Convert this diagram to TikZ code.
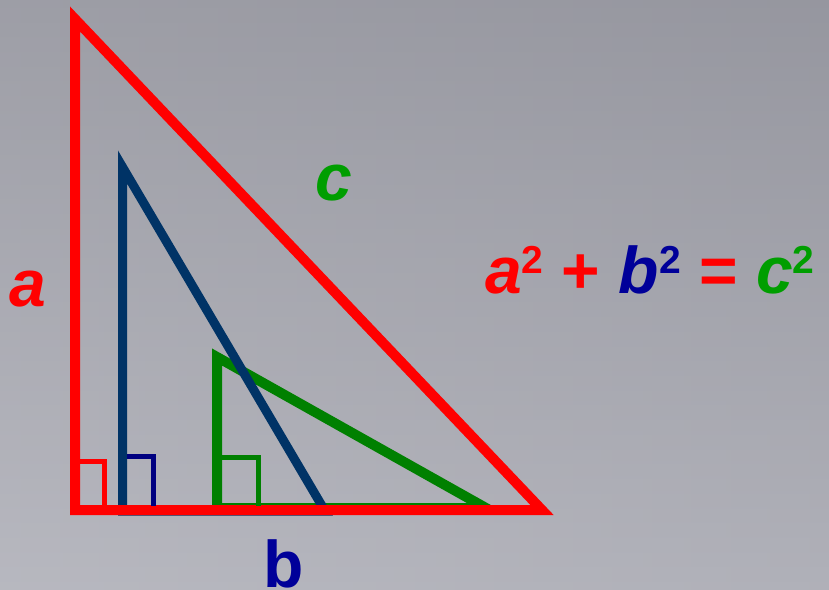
\documentclass[tikz,border=0pt]{standalone}
\usepackage{fontspec}
\setmainfont{Liberation Sans}
\definecolor{linegreen}{RGB}{0,128,0}
\definecolor{txtgreen}{RGB}{0,158,0}
\definecolor{lineblue}{RGB}{0,51,102}
\definecolor{sqblue}{RGB}{0,0,128}
\definecolor{txtblue}{RGB}{0,0,153}
\definecolor{bgtop}{RGB}{132,133,142}
\definecolor{bgmid}{RGB}{184,184,192}
\definecolor{bgbot}{RGB}{172,173,181}
\definecolor{bglight}{RGB}{205,205,212}
\newcommand\mytwo[1]{\raisebox{20pt}{\fontsize{39}{39}\selectfont\bfseries\upshape\textcolor{#1}{2}}}
\begin{document}
\begin{tikzpicture}[x=1pt,y=-1pt,line join=miter,
  tri/.style={line width=10pt},
  sqr/.style={line width=5pt},
  lbl/.style={inner sep=0pt,font=\fontsize{66}{66}\selectfont\bfseries}]
\shade[top color=bgtop,middle color=bgmid,bottom color=bgbot] (0,0) rectangle (829,589);
\shade[left color=bglight,right color=bgmid,fill opacity=0.35] (0,0) rectangle (829,589);
\useasboundingbox (0,0) rectangle (829,589);
% green triangle
\coordinate (g1) at (217,357);
\coordinate (g2) at (217,508);
\coordinate (g3) at (486,508);
\draw[tri,linegreen] (g1) -- (g2) -- (g3) -- cycle;
% blue triangle
\coordinate (b1) at (122.5,167);
\coordinate (b2) at (122.5,511);
\coordinate (b3) at (325,511);
\draw[line width=9pt,lineblue] (b1) -- (b2) -- (b3) -- cycle;
% red triangle
\coordinate (r1) at (75,19);
\coordinate (r2) at (75,510);
\coordinate (r3) at (542,510);
\draw[tri,red] (r1) -- (r2) -- (r3) -- cycle;
% right-angle marks
\coordinate (rs1) at (79,461.5);
\coordinate (rs2) at (104.5,461.5);
\coordinate (rs3) at (104.5,506);
\draw[sqr,red] (rs1) -- (rs2) -- (rs3);
\coordinate (bs1) at (127,456.5);
\coordinate (bs2) at (153,456.5);
\coordinate (bs3) at (153,506);
\draw[sqr,sqblue] (bs1) -- (bs2) -- (bs3);
\coordinate (gs1) at (222,457.5);
\coordinate (gs2) at (258,457.5);
\coordinate (gs3) at (258,506);
\draw[sqr,linegreen] (gs1) -- (gs2) -- (gs3);
% labels
\node[lbl,red,anchor=base] (la) at (28,306) {\itshape a};
\node[lbl,txtgreen,anchor=base] (lc) at (334,200) {\itshape c};
\node[lbl,txtblue,anchor=base] (lb) at (284,587) {b};
\node[lbl,anchor=base west] (eq) at (485,293) {\textcolor{red}{\itshape a}\mytwo{red}\ \textcolor{red}{+}\ \textcolor{txtblue}{\itshape b}\mytwo{txtblue}\ \textcolor{red}{=}\ \textcolor{txtgreen}{\itshape c}\mytwo{txtgreen}};
\end{tikzpicture}
\end{document}
